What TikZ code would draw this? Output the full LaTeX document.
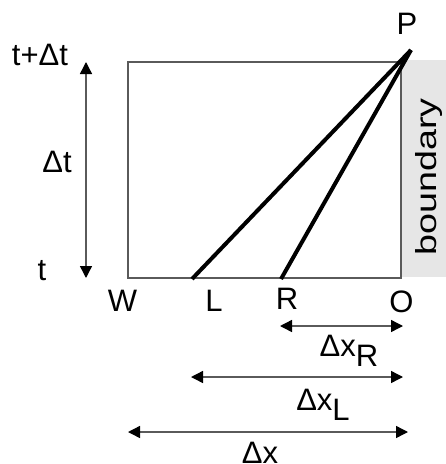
\documentclass[tikz,border=0pt]{standalone}
\usepackage{fontspec}
\setmainfont{Liberation Sans}
\usetikzlibrary{arrows.meta}
\definecolor{linegray}{HTML}{5A5A5A}
\definecolor{boundgray}{HTML}{E6E6E6}
\tikzset{
  lbl/.style={inner sep=0pt, font=\fontsize{31}{34}\selectfont},
  dimarrow/.style={draw=linegray, line width=1.4pt,
    {Triangle[length=12pt,width=12pt,color=black]}-{Triangle[length=12pt,width=12pt,color=black]}},
  charline/.style={draw=black, line width=4pt},
  cell/.style={draw=linegray, line width=1.4pt},
}
\begin{document}
\begin{tikzpicture}[x=1pt,y=-1pt]
\useasboundingbox (0,0) rectangle (446,464);
% boundary strip
\fill[boundgray] (401,60) rectangle (446,277);
\node[lbl, rotate=90, font=\fontsize{29}{32}\selectfont] (bnd) at (428.5,177) {\scalebox{1.3}[1]{boundary}};
% cell
\draw[cell] (128,62) rectangle (401,278);
% points
\coordinate (Ptop) at (411,50);
\coordinate (Lpt) at (192,279);
\coordinate (Rpt) at (281,279);
\draw[charline] (Ptop) -- (Lpt);
\draw[charline] (Ptop) -- (Rpt);
% labels
\node[lbl] (P) at (407,24) {P};
\node[lbl] (W) at (122.5,301) {W};
\node[lbl] (L) at (214,301) {L};
\node[lbl] (R) at (287,299) {R};
\node[lbl] (O) at (401.5,302) {O};
\node[lbl] (ttop) at (40,55) {t+Δt};
\node[lbl] (dt) at (57,162) {Δt};
\node[lbl] (tbot) at (42,271) {t};
% time arrow
\coordinate (tA) at (86,62);
\coordinate (tB) at (86,278);
\draw[dimarrow] (tA) -- (tB);
% dx arrows
\coordinate (xr1) at (280,326);
\coordinate (xr2) at (403,326);
\draw[dimarrow] (xr1) -- (xr2);
\coordinate (xl1) at (191,377);
\coordinate (xl2) at (403,377);
\draw[dimarrow] (xl1) -- (xl2);
\coordinate (x1) at (128,432);
\coordinate (x2) at (408,432);
\draw[dimarrow] (x1) -- (x2);
\node[lbl] (dxr) at (349,351) {Δx\raisebox{-0.33em}{R}};
\node[lbl] (dxl) at (323,405) {Δx\raisebox{-0.33em}{L}};
\node[lbl] (dx) at (260,453) {Δx};
\end{tikzpicture}
\end{document}
